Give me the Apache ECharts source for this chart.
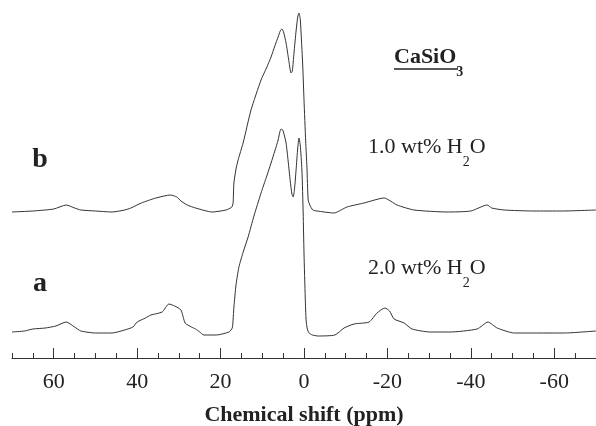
<!DOCTYPE html>
<html>
<head>
<meta charset="utf-8">
<script src="https://cdn.jsdelivr.net/npm/echarts@6/dist/echarts.min.js"></script>
<style>
  html, body { margin: 0; padding: 0; background: #fff; }
  #chart { width: 596px; height: 426px; }
</style>
</head>
<body>
<div id="chart"></div>
<script>
// chemical shift (ppm) and intensity above each trace's own baseline
var ppmA = [70, 67, 65, 62, 59.5, 57, 55, 53.5, 50, 46, 43, 41, 40, 38, 36.7, 34, 32.4, 31, 29.5, 28.5, 27, 26, 25, 24, 21, 18, 17.2, 17, 16.8, 16.3, 15.6, 14.5, 13.4, 12, 10.3, 9, 7.9, 7, 6.2, 5.8, 5.5, 5.1, 4.8, 4.3, 3.8, 3.3, 2.9, 2.6, 2.3, 1.9, 1.5, 1.2, 0.9, 0.5, 0.2, 0, -0.3, -0.5, -0.8, -1.2, -2, -3.4, -7.4, -9.6, -12, -15.6, -17.5, -19.4, -20.5, -21.6, -24, -25.9, -30.2, -35, -41.5, -44.1, -46.3, -50.4, -56, -62.4, -70];
var intA = [1, 2, 4, 5, 7, 11, 6, 2, 0, 0, 3, 6, 11, 15, 18, 21, 29, 27, 23, 10, 6, 4, 1, -2, -2, 1, 5, 13, 26, 48, 66, 82, 96, 117, 140, 156, 170, 182, 193, 201, 204, 203, 199, 190, 172, 152, 139, 136, 143, 163, 185, 195, 188, 163, 120, 80, 35, 13, 4, 0, -2, -3, -2, 5, 9, 11, 20, 25, 22, 14, 10, 4, 1, 1, 4, 11, 5, 0, 0, 0, 2];

var ppmB = [70, 65, 60, 57, 55, 53.5, 50, 46, 43, 41.5, 39, 35.5, 32, 30.5, 29.5, 28, 26, 22, 18.7, 17.3, 17, 16.8, 16.3, 15.8, 14.6, 12.7, 10.3, 9, 7.9, 7, 6.2, 5.7, 5.3, 4.9, 4.3, 3.7, 3.1, 2.8, 2.4, 1.9, 1.5, 1.2, 0.9, 0.7, 0.3, 0, -0.4, -0.7, -1, -1.4, -2.1, -3.1, -7.2, -10.3, -14.4, -19.2, -22.3, -26.4, -34.3, -40, -43.9, -45, -48, -55, -62, -70];
var intB = [-1, 0, 2, 6, 3, 1, 0, -1, 1, 3, 8, 13, 16, 14, 10, 6, 3, -1, 1, 4, 8, 28, 42, 51, 68, 101, 131, 143, 154, 165, 174, 180, 182, 179, 168, 152, 138, 140, 158, 180, 194, 198, 192, 178, 145, 111, 70, 44, 11, 6, 1, 0, -2, 4, 8, 13, 6, 1, -1, 0, 6, 3, 1, 0, 0, 1];

var minorTicks = [70, 65, 55, 50, 45, 35, 30, 25, 15, 10, 5, -5, -10, -15, -25, -30, -35, -45, -50, -55, -65];
var majorTicks = [60, 40, 20, 0, -20, -40, -60];

// vertical offsets of the two traces (stacked spectra)
var offsetA = 25;
var offsetB = 147;

function build(ppm, vals, off) {
    return ppm.map(function (p, i) { return [p, vals[i] + off]; });
}

var serif = 'Liberation Serif';
var chart = echarts.init(document.getElementById('chart'));

function label(txt, sub, x, y, bold) {
    return {
        type: 'text',
        x: x,
        y: y,
        style: {
            text: '{m|' + txt + '}{s|' + sub + '}' + (sub === '2' ? '{m|O}' : ''),
            textVerticalAlign: 'middle',
            rich: {
                m: { fontFamily: serif, fontSize: 22, fontWeight: bold ? 'bold' : 'normal', lineHeight: 44, fill: '#222' },
                s: { fontFamily: serif, fontSize: 14, fontWeight: bold ? 'bold' : 'normal', lineHeight: 14, verticalAlign: 'bottom', fill: '#222' }
            }
        }
    };
}

chart.setOption({
    animation: false,
    grid: { left: 12, right: 0, top: 0, bottom: 68, outerBoundsMode: 'none' },
    xAxis: [
        {
            type: 'value', min: -70, max: 70, inverse: true,
            axisLine: { lineStyle: { color: '#333', width: 1 } },
            axisTick: { inside: true, length: 5, customValues: minorTicks, lineStyle: { color: '#333' } },
            axisLabel: { show: false },
            splitLine: { show: false }
        },
        {
            type: 'value', min: -70, max: 70, inverse: true,
            position: 'bottom',
            axisLine: { show: false },
            axisTick: { inside: true, length: 10, customValues: majorTicks, lineStyle: { color: '#333' } },
            axisLabel: { customValues: majorTicks, fontFamily: serif, fontSize: 22, color: '#222', margin: 13 },
            splitLine: { show: false },
            name: 'Chemical shift (ppm)',
            nameLocation: 'middle',
            nameGap: 46,
            nameTextStyle: { fontFamily: serif, fontSize: 22, fontWeight: 'bold', color: '#222' }
        }
    ],
    yAxis: { type: 'value', min: 0, max: 358, show: false },
    series: [
        {
            type: 'line', xAxisIndex: 0, data: build(ppmB, intB, offsetB),
            showSymbol: false, smooth: 0.2,
            lineStyle: { color: '#333', width: 1 }
        },
        {
            type: 'line', xAxisIndex: 0, data: build(ppmA, intA, offsetA),
            showSymbol: false, smooth: 0.2,
            lineStyle: { color: '#333', width: 1 }
        }
    ],
    graphic: [
        label('CaSiO', '3', 394, 57, true),
        { type: 'line', shape: { x1: 394, y1: 69, x2: 458, y2: 69 }, style: { stroke: '#222', lineWidth: 1.5 } },
        label('1.0 wt% H', '2', 368, 147, false),
        label('2.0 wt% H', '2', 368, 268, false),
        { type: 'text', x: 40, y: 160, style: { text: 'b', font: 'bold 28px ' + serif, fill: '#222', textAlign: 'center', textVerticalAlign: 'middle' } },
        { type: 'text', x: 40, y: 284, style: { text: 'a', font: 'bold 28px ' + serif, fill: '#222', textAlign: 'center', textVerticalAlign: 'middle' } }
    ]
});
</script>
</body>
</html>
